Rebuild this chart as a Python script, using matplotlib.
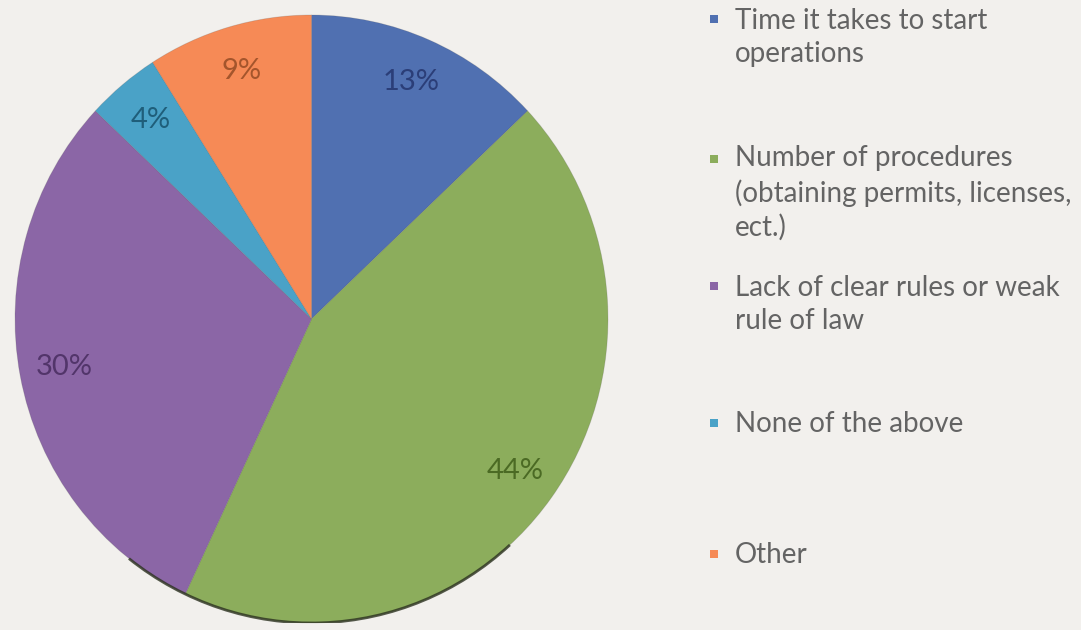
import matplotlib
matplotlib.use("Agg")
import matplotlib.pyplot as plt
from matplotlib.patches import Rectangle, Arc

# ---- data ----
categories = [
    "Time it takes to start\noperations",
    "Number of procedures\n(obtaining permits, licenses,\nect.)",
    "Lack of clear rules or weak\nrule of law",
    "None of the above",
    "Other",
]
values = [13, 44, 30, 4, 9]
colors = ["#5070b1", "#8cad5c", "#8b66a6", "#4aa2c7", "#f68a56"]
label_colors = ["#2b3e78", "#4b6a24", "#52356a", "#1f5e7a", "#a4552c"]

BG = "#f2f0ed"
W, H = 1081, 630
fig = plt.figure(figsize=(W / 100, H / 100), dpi=100, facecolor=BG)

# pie axes (pixel layout): left 15, right 608, top 15, bottom 623
x0, x1, y0, y1 = 15, 608, 15, 623
ax = fig.add_axes([x0 / W, (H - y1) / H, (x1 - x0) / W, (y1 - y0) / H])
ax.set_facecolor(BG)
wedges, texts, autotexts = ax.pie(
    values, colors=colors, startangle=90, counterclock=False,
    autopct=lambda p: f"{p:.0f}%", pctdistance=0.85,
    wedgeprops=dict(linewidth=0.6, edgecolor="#50505035"),
    textprops=dict(fontsize=21, family="Lato"),
)
for t, c in zip(autotexts, label_colors):
    t.set_color(c)
ax.add_patch(Arc((0, 0), 2.0, 2.0, theta1=232, theta2=312,
                 lw=2.0, color="#2c3220", alpha=0.8))
ax.set_xlim(-1, 1)
ax.set_ylim(-1, 1)
ax.set_aspect("auto")
ax.axis("off")

# legend (manual layout)
entry_baselines = [28, 168, 295, 432, 563]  # pixel y of first-line baseline (from top)
line_pitch = 34
sq_x, txt_x, sq = 710, 735, 8
for lab, col, base in zip(categories, colors, entry_baselines):
    last_base = base + lab.count("\n") * line_pitch
    fig.text(txt_x / W, 1 - last_base / H, lab, ha="left", va="baseline",
             fontsize=20, family="Lato", color="#646464", linespacing=1.34)
    fig.patches.append(Rectangle((sq_x / W, 1 - (base - 5) / H), sq / W, sq / H,
                                 transform=fig.transFigure, facecolor=col,
                                 edgecolor="none"))

fig.savefig("out.png", dpi=100, facecolor=BG)
